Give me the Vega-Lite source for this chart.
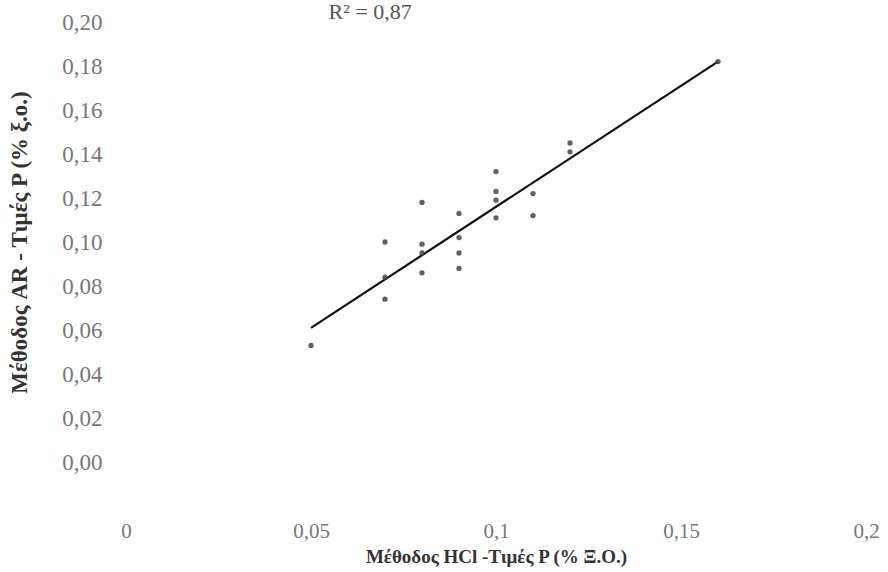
{
  "$schema": "https://vega.github.io/schema/vega-lite/v6.json",
  "width": 740,
  "height": 440,
  "autosize": "none",
  "padding": {"left": 126, "top": 22, "right": 22, "bottom": 110},
  "background": "white",
  "config": {"view": {"stroke": null}, "font": "Liberation Serif"},
  "datasets": {
    "pts": [
      {"hcl": 0.05, "ar": 0.053},
      {"hcl": 0.07, "ar": 0.100},
      {"hcl": 0.07, "ar": 0.084},
      {"hcl": 0.07, "ar": 0.074},
      {"hcl": 0.08, "ar": 0.118},
      {"hcl": 0.08, "ar": 0.099},
      {"hcl": 0.08, "ar": 0.095},
      {"hcl": 0.08, "ar": 0.086},
      {"hcl": 0.09, "ar": 0.113},
      {"hcl": 0.09, "ar": 0.102},
      {"hcl": 0.09, "ar": 0.095},
      {"hcl": 0.09, "ar": 0.088},
      {"hcl": 0.10, "ar": 0.132},
      {"hcl": 0.10, "ar": 0.123},
      {"hcl": 0.10, "ar": 0.119},
      {"hcl": 0.10, "ar": 0.111},
      {"hcl": 0.11, "ar": 0.122},
      {"hcl": 0.11, "ar": 0.112},
      {"hcl": 0.12, "ar": 0.145},
      {"hcl": 0.12, "ar": 0.141},
      {"hcl": 0.16, "ar": 0.182}
    ],
    "fit": [
      {"hcl": 0.05, "ar": 0.061},
      {"hcl": 0.16, "ar": 0.182}
    ],
    "note": [
      {"hcl": 0.066, "ar": 0.2045, "label": "R² = 0,87"}
    ]
  },
  "layer": [
    {
      "data": {"name": "fit"},
      "mark": {"type": "line", "color": "#111111", "strokeWidth": 2.2},
      "encoding": {
        "x": {
          "field": "hcl", "type": "quantitative",
          "scale": {"domain": [0, 0.2], "nice": false, "zero": false},
          "axis": {
            "title": "Μέθοδος HCl -Τιμές P (% Ξ.Ο.)",
            "values": [0, 0.05, 0.1, 0.15, 0.2],
            "labelExpr": "replace(format(datum.value, '~g'), '.', ',')",
            "grid": false, "domain": false, "ticks": false,
            "labelFont": "Liberation Serif", "labelFontSize": 21, "labelColor": "#777777",
            "labelPadding": 58, "labelFlush": false,
            "titleFont": "Liberation Serif", "titleFontSize": 19, "titleFontWeight": "bold",
            "titleColor": "#333333", "titlePadding": 6
          }
        },
        "y": {
          "field": "ar", "type": "quantitative",
          "scale": {"domain": [0, 0.2], "nice": false, "zero": false},
          "axis": {
            "title": "Μέθοδος AR - Τιμές P (% ξ.ο.)",
            "values": [0, 0.02, 0.04, 0.06, 0.08, 0.1, 0.12, 0.14, 0.16, 0.18, 0.2],
            "labelExpr": "replace(format(datum.value, '.2f'), '.', ',')",
            "grid": false, "domain": false, "ticks": false,
            "labelFont": "Liberation Serif", "labelFontSize": 23, "labelColor": "#777777",
            "labelPadding": 24, "labelFlush": false,
            "titleFont": "Liberation Serif", "titleFontSize": 23, "titleFontWeight": "bold",
            "titleColor": "#333333", "titlePadding": 30
          }
        }
      }
    },
    {
      "data": {"name": "pts"},
      "mark": {"type": "point", "filled": true, "color": "#444444", "size": 28, "opacity": 0.85},
      "encoding": {
        "x": {"field": "hcl", "type": "quantitative"},
        "y": {"field": "ar", "type": "quantitative"}
      }
    },
    {
      "data": {"name": "note"},
      "mark": {"type": "text", "font": "Liberation Serif", "fontSize": 22, "color": "#555555", "clip": false, "baseline": "middle", "align": "center"},
      "encoding": {
        "x": {"field": "hcl", "type": "quantitative"},
        "y": {"field": "ar", "type": "quantitative"},
        "text": {"field": "label"}
      }
    }
  ]
}
